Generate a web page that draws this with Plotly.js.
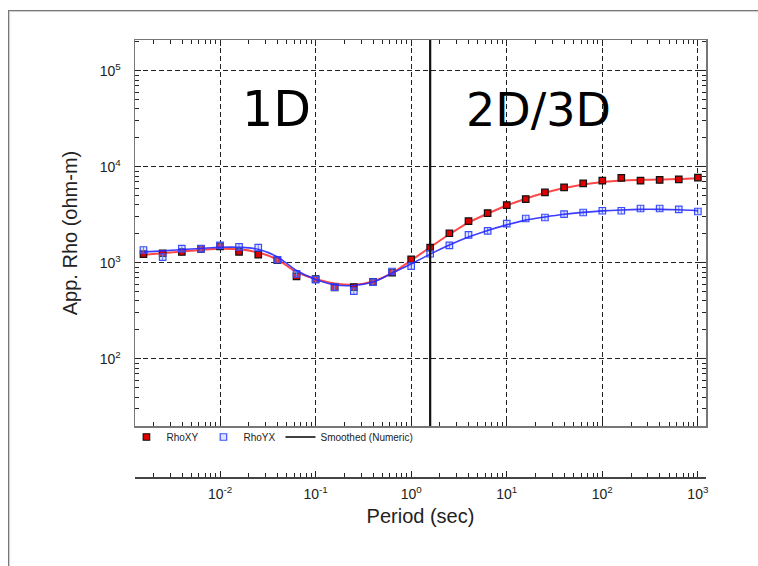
<!DOCTYPE html>
<html>
<head>
<meta charset="utf-8">
<script src="https://cdn.plot.ly/plotly-3.0.1.min.js"></script>
<style>
  html, body { margin: 0; padding: 0; background: #fff; }
  #wrap { position: relative; width: 758px; height: 566px; }
  #chart { width: 758px; height: 566px; }
  #frame { position: absolute; left: 8px; top: 10px; right: 0; bottom: 0;
           border-top: 1px solid #777; border-left: 1px solid #777;
           box-shadow: inset 1px 1px 1px #ccc; pointer-events: none; }
</style>
</head>
<body>
<div id="wrap">
  <div id="chart"></div>
  <div id="frame"></div>
</div>
<script>
// Periods (s)
const period = [0.00158, 0.00251, 0.00398, 0.00631, 0.01, 0.0158, 0.0251, 0.0398, 0.0631, 0.1,
                0.158, 0.251, 0.398, 0.631, 1, 1.58, 2.51, 3.98, 6.31, 10,
                15.8, 25.1, 39.8, 63.1, 100, 158, 251, 398, 631, 1000];
// Apparent resistivity (ohm-m)
const rhoXY = [1233, 1257, 1295, 1391, 1485, 1301, 1216, 1062, 723, 675,
               554, 557, 632, 789, 1086, 1435, 2030, 2712, 3288, 3990,
               4610, 5400, 6100, 6710, 7160, 7650, 7160, 7290, 7400, 7710];
const rhoYX = [1359, 1147, 1402, 1402, 1521, 1467, 1436, 1075, 767, 667,
               557, 506, 628, 811, 923, 1242, 1520, 1950, 2148, 2560,
               2890, 2960, 3210, 3340, 3480, 3480, 3675, 3675, 3590, 3420];
// Smoothed (numeric) curves
const smoothXY = [1210, 1260, 1310, 1360, 1400, 1380, 1280, 1080, 800, 680,
                  610, 590, 640, 780, 1060, 1450, 1980, 2620, 3250, 3950,
                  4650, 5350, 6000, 6550, 6950, 7200, 7300, 7350, 7450, 7600];
const smoothYX = [1300, 1330, 1370, 1410, 1450, 1450, 1380, 1150, 830, 670,
                  590, 580, 630, 780, 970, 1230, 1530, 1850, 2170, 2480,
                  2780, 3000, 3200, 3350, 3470, 3550, 3600, 3600, 3560, 3480];
// 1D / 2D-3D boundary period (s)
const boundaryPeriod = [1.58];
const regionLabels = ['1D', '2D/3D'];
const seriesNames = ['RhoXY', 'RhoYX', 'Smoothed (Numeric)'];

// Tick labels
const xTickVals = [0.01, 0.1, 1, 10, 100, 1000];
const xTickText = ['10<sup>-2</sup>', '10<sup>-1</sup>', '10<sup>0</sup>', '10<sup>1</sup>', '10<sup>2</sup>', '10<sup>3</sup>'];
const yTickVals = [100, 1000, 10000, 100000];
const yTickText = ['10<sup>2</sup>', '10<sup>3</sup>', '10<sup>4</sup>', '10<sup>5</sup>'];

const xRange = [-2.89, 3.085];
const yRange = [1.30, 5.32];

const traces = [
  { x: period, y: smoothXY, type: 'scatter', mode: 'lines', line: { color: 'rgba(255,40,40,0.85)', width: 2, shape: 'spline' },
    showlegend: false, hoverinfo: 'skip' },
  { x: period, y: smoothYX, xaxis: 'x2', yaxis: 'y', type: 'scatter', mode: 'lines', line: { color: 'rgba(40,40,255,0.9)', width: 1.6, shape: 'spline' },
    showlegend: false, hoverinfo: 'skip' },
  { x: period, y: rhoXY, name: seriesNames[0], type: 'scatter', mode: 'markers',
    marker: { symbol: 'square', size: 6.5, color: '#dd0000', line: { color: '#111', width: 1.2 } },
    error_y: { type: 'percent', value: 8, color: '#111', thickness: 1, width: 0 } },
  { x: period, y: rhoYX, name: seriesNames[1], type: 'scatter', mode: 'markers',
    marker: { symbol: 'square', size: 6.5, color: 'rgba(150,170,255,0.3)', line: { color: '#3a4dff', width: 1.2 } },
    error_y: { type: 'percent', value: 8, color: '#5a6aff', thickness: 1, width: 0 } },
  { x: [null], y: [null], name: seriesNames[2], type: 'scatter', mode: 'lines',
    line: { color: '#000', width: 1.5 } }
];

const tickFont = { family: 'Liberation Sans, Arial, sans-serif', size: 14, color: '#222' };

const layout = {
  width: 758, height: 566,
  margin: { l: 135, r: 52, t: 40, b: 89 },
  paper_bgcolor: '#fff', plot_bgcolor: '#fff',
  showlegend: true,
  legend: { orientation: 'h', x: -0.015, xanchor: 'left', y: 0.0915, yanchor: 'middle',
            font: { family: 'Liberation Sans, Arial, sans-serif', size: 10, color: '#222' },
            bgcolor: 'rgba(0,0,0,0)', itemwidth: 30, tracegroupgap: 0 },
  xaxis: {
    type: 'log', range: xRange, domain: [0, 1], anchor: 'y',
    showline: true, linecolor: '#777', linewidth: 1.5, mirror: 'ticks',
    ticks: 'inside', ticklen: 6, tickcolor: '#222', tickvals: xTickVals,
    showticklabels: false,
    showgrid: true, gridcolor: '#222', griddash: '5px,3px', gridwidth: 1,
    minor: { dtick: 'D1', ticks: 'inside', ticklen: 4, tickcolor: '#222', showgrid: false },
    zeroline: false
  },
  xaxis2: {
    type: 'log', range: xRange, overlaying: 'x', anchor: 'free', position: 0, side: 'bottom',
    showline: true, linecolor: '#444', linewidth: 1.5,
    ticks: 'inside', ticklen: 6, tickcolor: '#222', tickvals: xTickVals, ticktext: xTickText,
    minor: { dtick: 'D1', ticks: 'inside', ticklen: 4, tickcolor: '#222', showgrid: false },
    showgrid: false, zeroline: false,
    tickfont: tickFont, ticklabelstandoff: 4,
    title: { text: 'Period (sec)', font: { family: 'Liberation Sans, Arial, sans-serif', size: 20, color: '#222' }, standoff: 7 }
  },
  yaxis: {
    type: 'log', range: yRange, domain: [0.1167, 1],
    showline: true, linecolor: '#777', linewidth: 1.5, mirror: 'ticks',
    ticks: 'inside', ticklen: 6, tickcolor: '#222', tickvals: yTickVals, ticktext: yTickText,
    minor: { dtick: 'D1', ticks: 'inside', ticklen: 4, tickcolor: '#222', showgrid: false },
    showgrid: true, gridcolor: '#222', griddash: '5px,3px', gridwidth: 1,
    zeroline: false,
    tickfont: tickFont, ticklabelstandoff: 10,
    title: { text: 'App. Rho (ohm-m)', font: { family: 'Liberation Sans, Arial, sans-serif', size: 20, color: '#222' }, standoff: 16 }
  },
  shapes: [
    { type: 'line', xref: 'x', yref: 'y domain', x0: boundaryPeriod[0], x1: boundaryPeriod[0], y0: 0, y1: 1,
      line: { color: '#111', width: 2.2 } }
  ],
  annotations: [
    { text: regionLabels[0], xref: 'paper', yref: 'paper', x: 0.247, y: 0.84, xanchor: 'center', yanchor: 'middle',
      showarrow: false, font: { family: 'DejaVu Sans, sans-serif', size: 49, color: '#000' } },
    { text: regionLabels[1], xref: 'paper', yref: 'paper', x: 0.706, y: 0.84, xanchor: 'center', yanchor: 'middle',
      showarrow: false, font: { family: 'DejaVu Sans, sans-serif', size: 46, color: '#000' } }
  ]
};

Plotly.newPlot('chart', traces, layout, { displayModeBar: false, staticPlot: true });
</script>
</body>
</html>
